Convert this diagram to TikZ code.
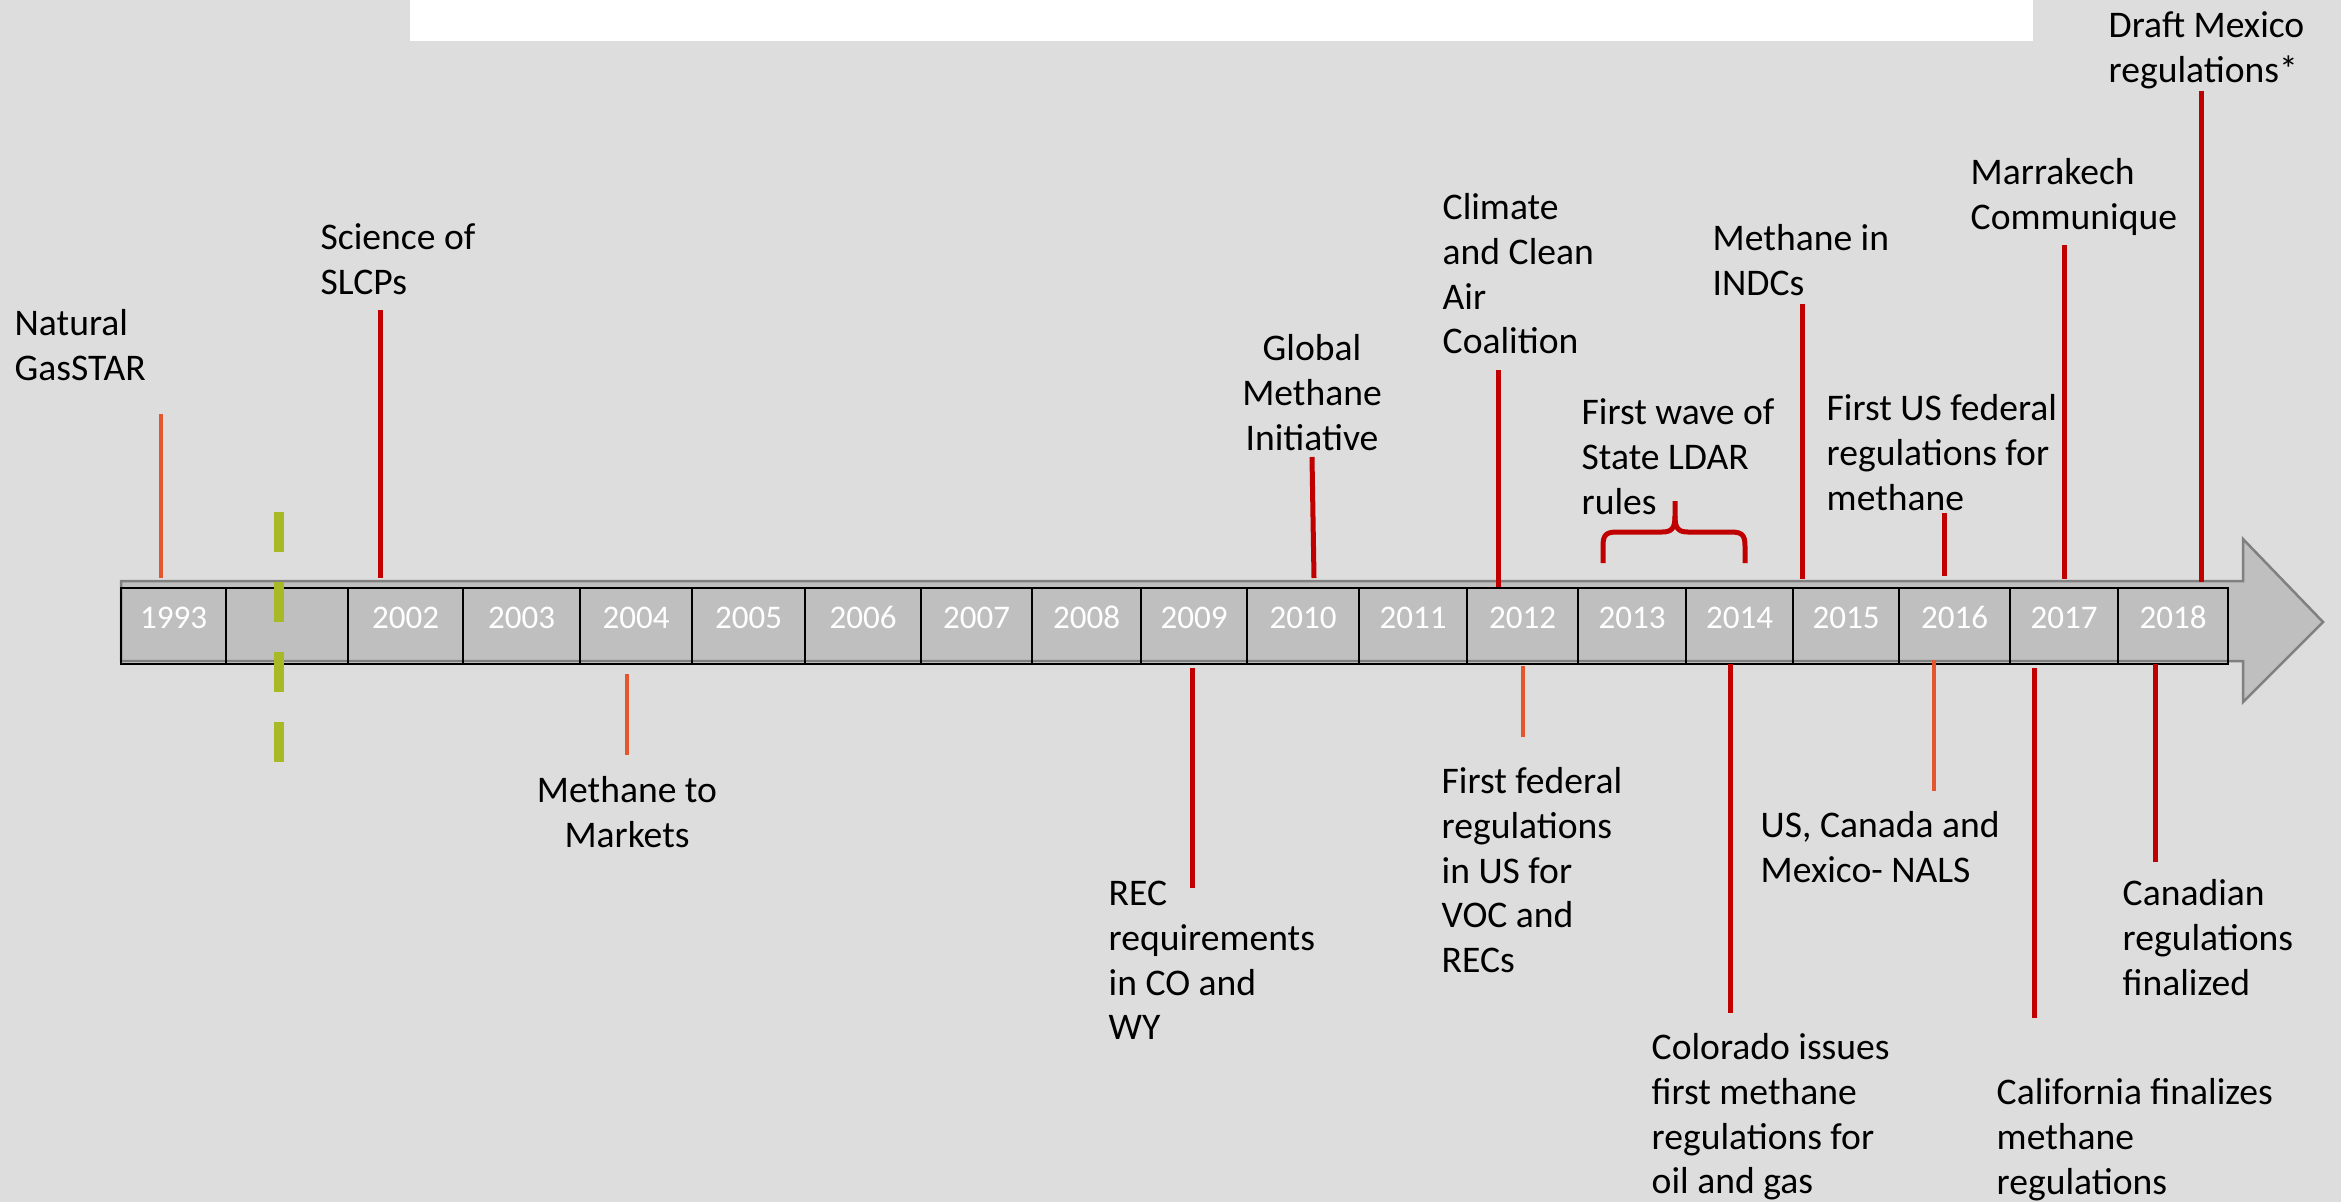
\documentclass[tikz,border=0pt]{standalone}
\usepackage{fontspec}
\setmainfont{Carlito}
\definecolor{bg}{RGB}{221,221,221}
\definecolor{arrowfill}{RGB}{191,191,191}
\definecolor{arrowline}{RGB}{128,128,128}
\definecolor{evred}{RGB}{192,0,0}
\definecolor{evorange}{RGB}{228,86,44}
\definecolor{dashgreen}{RGB}{168,185,38}
\newcommand\toprl{\rule{0pt}{9pt}}
\begin{document}
\begin{tikzpicture}[x=0.1mm,y=-0.1mm,
  lab/.style={font=\fontsize{10.7}{12.72}\selectfont, text=black, inner sep=0pt, align=left, anchor=north west},
  labc/.style={lab, align=center, anchor=north},
  cell/.style={draw=black, line width=0.2mm, rectangle, inner sep=0pt, minimum height=7.6mm},
  yearlab/.style={font=\fontsize{9.4}{11}\selectfont, text=white, inner sep=0pt, anchor=base},
  redln/.style={draw=evred, line width=0.5mm},
  orln/.style={draw=evorange, line width=0.47mm},
  bracestyle/.style={draw=evred, line width=0.5mm, line join=round}
]
\useasboundingbox[fill=bg] (0,0) rectangle (2341,1202);
% white strip at the top
\fill[white] (410,0) rectangle (2033,41);

% arrow
\filldraw[fill=arrowfill, draw=arrowline, line width=0.25mm]
  (121,581) -- (2243,581) -- (2243,539) -- (2323,622) -- (2243,702) -- (2243,661) -- (121,661) -- cycle;

% cells and years
\foreach \a/\b/\yr [count=\i] in {121/226/1993, 226/348/{}, 348/463/2002, 463/580/2003, 580/692/2004, 692/805/2005, 805/921/2006, 921/1032/2007, 1032/1141/2008, 1141/1247/2009, 1247/1359/2010, 1359/1467/2011, 1467/1578/2012, 1578/1686/2013, 1686/1793/2014, 1793/1899/2015, 1899/2010/2016, 2010/2118/2017, 2118/2228/2018}{
  \pgfmathsetmacro\w{(\b-\a)*0.1}
  \node[cell, minimum width=\w mm] (c\i) at ({(\a+\b)/2},626) {};
  \node[yearlab] (y\i) at ({(\a+\b)/2},628) {\yr};
}

% green dashed break
\coordinate (gbt) at (279,512);
\coordinate (gbb) at (279,762);
\draw[dashgreen, line width=1mm, dash pattern=on 4mm off 3mm] (gbt) -- (gbb);

% leader lines
\foreach \n/\x/\t/\bb/\st in {
  l1993/161/414/578/orln, l2002/380/310/578/redln, l2012/1498/370/587/redln,
  l2015/1802/304/579/redln, l2016/1944/513/576/redln, l2017/2064/245/579/redln,
  l2018/2201/91/582/redln,
  b2004/627/674/755/orln, b2009/1192/668/888/redln, b2012/1523/666/737/orln,
  b2014/1730/664/1013/redln, b2016/1934/660/791/orln, b2017/2034/668/1018/redln,
  b2018/2155/664/862/redln}{
  \coordinate (\n-t) at (\x,\t);
  \coordinate (\n-b) at (\x,\bb);
  \draw[\st] (\n-t) -- (\n-b);
}
\coordinate (l2010-t) at (1312,457);
\coordinate (l2010-b) at (1314,578);
\draw[redln] (l2010-t) -- (l2010-b);

% brace
\draw[bracestyle] (1603,563) -- (1603,546) .. controls (1603,535) and (1606,532) .. (1617,532)
  -- (1662,532) .. controls (1672,532) and (1675,528) .. (1675,516) -- (1675,501);
\draw[bracestyle] (1675,516) .. controls (1675,528) and (1678,532) .. (1688,532)
  -- (1731,532) .. controls (1742,532) and (1745,535) .. (1745,546) -- (1745,563);

% labels above
\node[lab] (natgas) at (14,303.4) {\toprl Natural\\GasSTAR};
\node[lab] (slcp) at (320,217.4) {\toprl Science of\\SLCPs};
\node[labc] (gmi) at (1312,328.4) {\toprl Global\\Methane\\Initiative};
\node[lab] (ccac) at (1442,187.4) {\toprl Climate\\and Clean\\Air\\Coalition};
\node[lab] (ldar) at (1581,392.4) {\toprl First wave of\\State LDAR\\rules};
\node[lab] (indc) at (1712,218.4) {\toprl Methane in\\INDCs};
\node[lab] (usfed) at (1826,388.4) {\toprl First US federal\\regulations for\\methane};
\node[lab] (marr) at (1970,152.4) {\toprl Marrakech\\Communique};
\node[lab] (mex) at (2108,5.4) {\toprl Draft Mexico\\regulations*};

% labels below
\node[labc] (m2m) at (627,770.4) {\toprl Methane to\\Markets};
\node[lab] (rec) at (1108,873.4) {\toprl REC\\requirements\\in CO and\\WY};
\node[lab] (voc) at (1441,761.4) {\toprl First federal\\regulations\\in US for\\VOC and\\RECs};
\node[lab] (colo) at (1651,1027.4) {\toprl Colorado issues\\first methane\\regulations for\\oil and gas};
\node[lab] (nals) at (1760,805.4) {\toprl US, Canada and\\Mexico- NALS};
\node[lab] (cali) at (1996,1072.4) {\toprl California finalizes\\methane\\regulations};
\node[lab] (canada) at (2122,873.4) {\toprl Canadian\\regulations\\finalized};
\end{tikzpicture}
\end{document}
